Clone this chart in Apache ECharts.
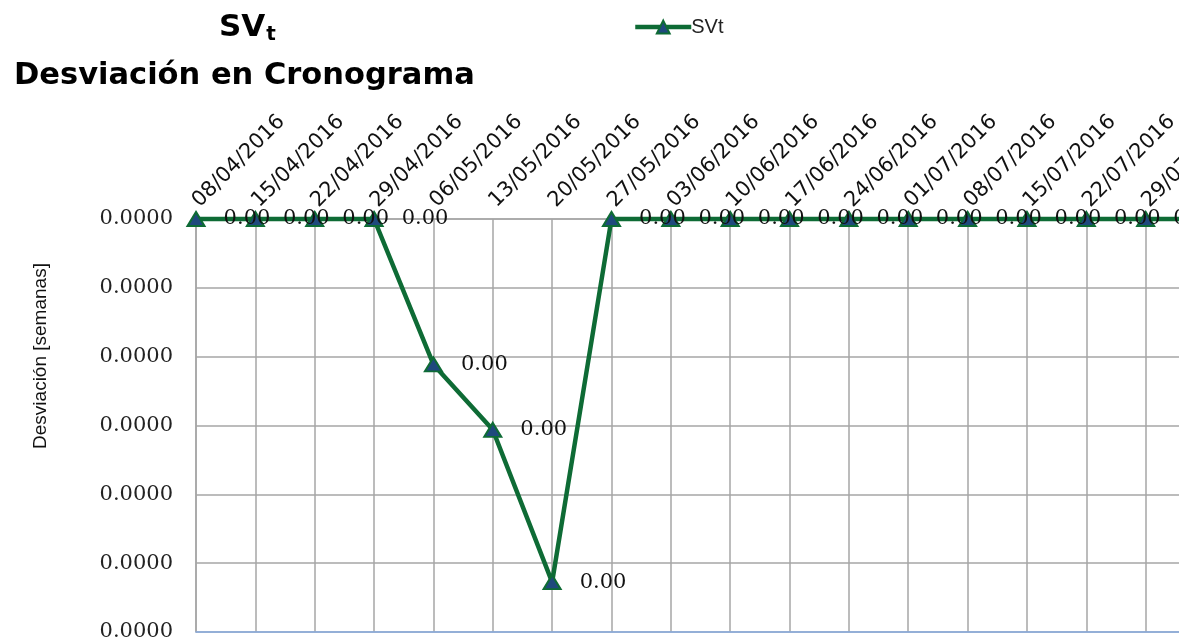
<!DOCTYPE html>
<html>
<head>
<meta charset="utf-8">
<title>SVt - Desviación en Cronograma</title>
<script src="https://cdn.jsdelivr.net/npm/echarts@6/dist/echarts.min.js"></script>
<style>
  html, body { margin: 0; padding: 0; background: #fff; }
  #chart { width: 1179px; height: 642px; }
</style>
</head>
<body>
<div id="chart"></div>
<script>
// weekly status dates (last one runs off the right edge, like the source)
var categories = [
  '08/04/2016', '15/04/2016', '22/04/2016', '29/04/2016', '06/05/2016',
  '13/05/2016', '20/05/2016', '27/05/2016', '03/06/2016', '10/06/2016',
  '17/06/2016', '24/06/2016', '01/07/2016', '08/07/2016', '15/07/2016',
  '22/07/2016', '29/07/2016', '05/08/2016'
];
// SVt in weeks (tiny values, all print as 0.00)
var svtValues = [
  0, 0, 0, 0, -0.0000169,
  -0.0000245, -0.0000422, 0, 0, 0,
  0, 0, 0, 0, 0,
  0, 0, 0
];
var yMin = -0.000048;
var yMax = 0;
var yStep = 0.000008;

var green = '#0e6b35';
var navy = '#1f497d';
var grid = '#a6a6a6';

// round then drop the "-0" sign
function fmt(v, d) {
  var p = Math.pow(10, d);
  return (Math.round(v * p) / p + 0).toFixed(d);
}

var chart = echarts.init(document.getElementById('chart'));
chart.setOption({
  animation: false,
  title: [{
    text: '{a|SV}{b|t}',
    left: 214,
    top: 6,
    textStyle: {
      rich: {
        a: { fontFamily: 'DejaVu Sans', fontWeight: 'bold', fontSize: 31, color: '#000' },
        b: { fontFamily: 'DejaVu Sans', fontWeight: 'bold', fontSize: 20, color: '#000', padding: [14, 0, 0, 1] }
      }
    }
  }, {
    text: 'Desviación en Cronograma',
    left: 9,
    top: 56,
    textStyle: { fontFamily: 'DejaVu Sans', fontWeight: 'bold', fontSize: 30.5, color: '#000' }
  }],
  legend: {
    left: 628,
    top: 12,
    itemWidth: 56,
    itemHeight: 16,
    itemGap: 4,
    lineStyle: { width: 4.5 },
    textStyle: { fontFamily: 'Liberation Sans', fontSize: 20, color: '#222', padding: [0, 0, 0, -5] },
    data: ['SVt']
  },
  grid: { left: 196, top: 219, width: 1009, height: 413, containLabel: false, outerBoundsMode: 'none' },
  xAxis: [{
    type: 'category',
    position: 'top',
    data: categories,
    boundaryGap: false,
    axisLine: { show: true, lineStyle: { color: grid, width: 1.5 } },
    axisTick: { show: false },
    axisLabel: {
      interval: 0,
      rotate: 45,
      margin: 15,
      fontFamily: 'DejaVu Sans',
      fontSize: 21,
      color: '#111',
      hideOverlap: false
    },
    splitLine: { show: true, lineStyle: { color: grid, width: 1.5 } }
  }, {
    type: 'category',
    position: 'bottom',
    data: categories,
    boundaryGap: false,
    axisLine: { show: true, lineStyle: { color: '#86abe0', width: 1.5 } },
    axisTick: { show: false },
    axisLabel: { show: false },
    splitLine: { show: false }
  }],
  yAxis: {
    type: 'value',
    min: yMin,
    max: yMax,
    interval: yStep,
    axisLine: { show: true, lineStyle: { color: grid, width: 1.5 } },
    axisTick: { show: false },
    axisLabel: {
      margin: 23,
      fontFamily: 'DejaVu Serif',
      fontSize: 21,
      color: '#222',
      formatter: function (v) { return fmt(v, 4); }
    },
    splitLine: { show: true, lineStyle: { color: grid, width: 1.5 } }
  },
  graphic: [{
    type: 'text',
    x: 41,
    y: 356,
    rotation: Math.PI / 2,
    style: {
      text: 'Desviación [semanas]',
      fontFamily: 'Liberation Sans',
      fontSize: 19,
      fill: '#111',
      align: 'center',
      verticalAlign: 'middle'
    }
  }],
  series: [{
    name: 'SVt',
    type: 'line',
    data: svtValues,
    clip: false,
    symbol: 'triangle',
    symbolSize: [17, 14],
    lineStyle: { color: green, width: 4.5 },
    itemStyle: { color: navy, borderColor: green, borderWidth: 2 },
    label: {
      show: true,
      position: 'right',
      distance: 18,
      fontFamily: 'DejaVu Serif',
      fontSize: 21,
      color: '#111',
      formatter: function (p) { return fmt(p.value, 2); }
    },
    labelLayout: { hideOverlap: false },
    z: 5
  }]
});
</script>
</body>
</html>
